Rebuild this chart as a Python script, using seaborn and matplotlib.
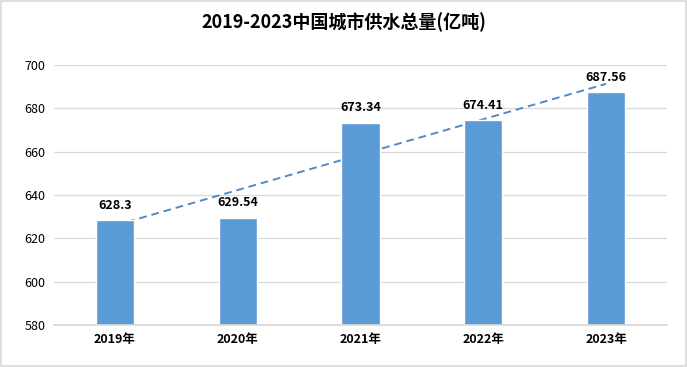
import matplotlib
matplotlib.use("Agg")
import matplotlib.pyplot as plt
import seaborn as sns
import numpy as np
import pandas as pd

years = ["2019年", "2020年", "2021年", "2022年", "2023年"]
values = [628.3, 629.54, 673.34, 674.41, 687.56]
value_labels = ["628.3", "629.54", "673.34", "674.41", "687.56"]
title = "2019-2023中国城市供水总量(亿吨)"

sns.set_theme(style="white")
plt.rcParams['font.family'] = ['Noto Sans CJK SC', 'DejaVu Sans']

df = pd.DataFrame({"year": years, "value": values})

fig = plt.figure(figsize=(6.87, 3.67), dpi=100)
ax = fig.add_axes([0.0779, 0.1144, 0.8937, 0.7085])

# trend line (linear fit), drawn behind bars
xs = np.arange(len(values))
coef = np.polyfit(xs, values, 1)
ax.plot(xs, np.polyval(coef, xs), linestyle=(0, (4, 2.5)), color="#4F8BC9",
        linewidth=1.4, zorder=1)

sns.barplot(data=df, x="year", y="value", color="#5B9BD5", width=0.31,
            saturation=1, ax=ax, zorder=2)

ax.set_ylim(580, 700)
ax.set_xlim(-0.5, len(values) - 0.5)
ax.set_yticks(np.arange(580, 701, 20))
ax.yaxis.grid(True, color="#D9D9D9", linewidth=0.9)
ax.set_axisbelow(True)
for s in ["top", "right", "left"]:
    ax.spines[s].set_visible(False)
ax.spines["bottom"].set_color("#D9D9D9")
ax.set_xlabel("")
ax.set_ylabel("")
ax.tick_params(axis="both", length=0, labelsize=9, colors="#000000", pad=6)
for lab in ax.get_xticklabels():
    lab.set_fontweight("bold")
for lab in ax.get_yticklabels():
    lab.set_fontweight("medium")

for i, (v, t) in enumerate(zip(values, value_labels)):
    ax.annotate(t, (i, v), xytext=(0, 6), textcoords="offset points",
                ha="center", va="bottom", fontsize=9, fontweight="bold",
                color="#000000")

fig.text(0.5, 0.94, title, ha="center", va="center", fontsize=13,
         fontweight="bold", color="#000000")

border = plt.Rectangle((0.002, 0.003), 0.996, 0.994, transform=fig.transFigure,
                       fill=False, edgecolor="#D9D9D9", linewidth=1.2)
fig.add_artist(border)

fig.savefig("out.png", dpi=100)
